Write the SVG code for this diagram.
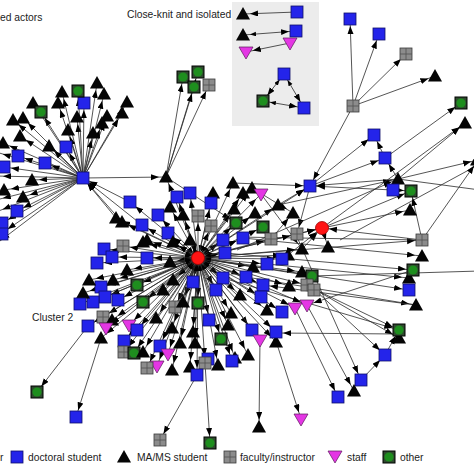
<svg xmlns="http://www.w3.org/2000/svg" width="474" height="474" viewBox="0 0 474 474">
<style>
.s{stroke:#2a2a2a;stroke-width:.8;fill:none;marker-end:url(#a)}
.d{stroke:#2a2a2a;stroke-width:.8;fill:none;marker-start:url(#h);marker-end:url(#a)}
.n{stroke:#2a2a2a;stroke-width:.8;fill:none}
.lbl{font-family:"Liberation Sans",Arial,sans-serif;font-size:10.3px;fill:#222}
</style>
<defs>
<marker id="a" markerWidth="10" markerHeight="8" refX="15" refY="3" orient="auto-start-reverse" markerUnits="userSpaceOnUse"><path d="M0,0 L8,3 L0,6z" fill="#000"/></marker>
<marker id="h" markerWidth="8" markerHeight="6" refX="13" refY="2.25" orient="auto-start-reverse" markerUnits="userSpaceOnUse"><path d="M0,0 L6,2.25 L0,4.5z" fill="#000"/></marker>
<g id="b"><rect x="-6" y="-6" width="12" height="12" fill="#2424ea" stroke="#10106a" stroke-width=".8"/></g>
<g id="t"><path d="M0,-7 L7,5.5 L-7,5.5z" fill="#050505"/></g>
<g id="g"><rect x="-6" y="-6" width="12" height="12" fill="#8c8c8c" stroke="#3a3a3a" stroke-width=".8"/><path d="M-6,0H6M0,-6V6" stroke="#505050" stroke-width=".8"/></g>
<g id="p"><path d="M-7,-5 L7,-5 L0,7z" fill="#e436e4" stroke="#5a1a5a" stroke-width=".7"/></g>
<g id="o"><rect x="-6" y="-6" width="12" height="12" fill="#2e4a2e" stroke="#000" stroke-width="1"/><circle r="4.6" fill="#1e8e1e"/></g>
<g id="r"><circle r="6.5" fill="#ff1414" stroke="#9a0000" stroke-width=".8"/></g>
</defs>
<rect x="232" y="2" width="87" height="124" fill="#ececec"/>
<g id="connectors">
<line x1="297" y1="12" x2="243" y2="14" class="s"/>
<line x1="243" y1="35" x2="296" y2="31" class="d"/>
<line x1="290" y1="43" x2="246" y2="52" class="s"/>
<line x1="284" y1="74" x2="263" y2="101" class="d"/>
<line x1="284" y1="74" x2="304" y2="108" class="d"/>
<line x1="263" y1="101" x2="304" y2="108" class="d"/>
<line x1="83" y1="178" x2="62" y2="92" class="s"/>
<line x1="83" y1="178" x2="58" y2="103" class="s"/>
<line x1="83" y1="178" x2="97" y2="83" class="s"/>
<line x1="83" y1="178" x2="104" y2="94" class="s"/>
<line x1="83" y1="178" x2="127" y2="102" class="s"/>
<line x1="83" y1="178" x2="122" y2="113" class="s"/>
<line x1="83" y1="178" x2="107" y2="116" class="s"/>
<line x1="83" y1="178" x2="33" y2="103" class="s"/>
<line x1="83" y1="178" x2="13" y2="120" class="s"/>
<line x1="83" y1="178" x2="23" y2="118" class="s"/>
<line x1="83" y1="178" x2="20" y2="136" class="s"/>
<line x1="83" y1="178" x2="49" y2="146" class="s"/>
<line x1="83" y1="178" x2="68" y2="130" class="s"/>
<line x1="83" y1="178" x2="77" y2="117" class="s"/>
<line x1="83" y1="178" x2="93" y2="133" class="s"/>
<line x1="83" y1="178" x2="102" y2="123" class="s"/>
<line x1="83" y1="178" x2="3" y2="143" class="s"/>
<line x1="83" y1="178" x2="32" y2="180" class="s"/>
<line x1="83" y1="178" x2="23" y2="197" class="s"/>
<line x1="83" y1="178" x2="4" y2="190" class="s"/>
<line x1="83" y1="178" x2="84" y2="103" class="s"/>
<line x1="83" y1="178" x2="66" y2="147" class="s"/>
<line x1="83" y1="178" x2="45" y2="163" class="s"/>
<line x1="83" y1="178" x2="18" y2="156" class="s"/>
<line x1="83" y1="178" x2="4" y2="167" class="s"/>
<line x1="83" y1="178" x2="17" y2="211" class="s"/>
<line x1="83" y1="178" x2="2" y2="223" class="s"/>
<line x1="83" y1="178" x2="2" y2="233" class="s"/>
<line x1="83" y1="178" x2="78" y2="91" class="s"/>
<line x1="83" y1="178" x2="41" y2="112" class="s"/>
<line x1="83" y1="178" x2="-4" y2="152" class="s"/>
<line x1="83" y1="178" x2="-4" y2="176" class="s"/>
<line x1="83" y1="178" x2="-4" y2="200" class="s"/>
<line x1="83" y1="178" x2="-4" y2="212" class="s"/>
<line x1="83" y1="178" x2="-4" y2="244" class="s"/>
<line x1="83" y1="178" x2="166" y2="177" class="s"/>
<line x1="130" y1="202" x2="83" y2="178" class="s"/>
<line x1="116" y1="218" x2="83" y2="178" class="s"/>
<line x1="142" y1="225" x2="83" y2="178" class="s"/>
<line x1="122" y1="222" x2="83" y2="178" class="s"/>
<line x1="166" y1="177" x2="183" y2="77" class="s"/>
<line x1="166" y1="177" x2="198" y2="72" class="s"/>
<line x1="166" y1="177" x2="194" y2="87" class="s"/>
<line x1="166" y1="177" x2="209" y2="85" class="s"/>
<line x1="166" y1="177" x2="236" y2="223" class="s"/>
<line x1="353" y1="106" x2="350" y2="19" class="s"/>
<line x1="353" y1="106" x2="379" y2="34" class="s"/>
<line x1="353" y1="106" x2="406" y2="54" class="s"/>
<line x1="353" y1="106" x2="435" y2="76" class="s"/>
<line x1="353" y1="106" x2="310" y2="186" class="s"/>
<line x1="310" y1="186" x2="374" y2="135" class="s"/>
<line x1="310" y1="186" x2="385" y2="158" class="s"/>
<line x1="398" y1="179" x2="310" y2="186" class="s"/>
<line x1="393" y1="190" x2="310" y2="186" class="s"/>
<line x1="278" y1="205" x2="310" y2="186" class="s"/>
<line x1="310" y1="186" x2="297" y2="234" class="s"/>
<line x1="233" y1="183" x2="310" y2="186" class="s"/>
<line x1="385" y1="158" x2="374" y2="135" class="s"/>
<line x1="398" y1="179" x2="385" y2="158" class="s"/>
<line x1="385" y1="158" x2="461" y2="103" class="s"/>
<line x1="398" y1="179" x2="465" y2="123" class="s"/>
<line x1="393" y1="190" x2="411" y2="191" class="s"/>
<line x1="398" y1="179" x2="478" y2="160" class="s"/>
<line x1="398" y1="179" x2="480" y2="190" class="n"/>
<line x1="278" y1="205" x2="398" y2="179" class="s"/>
<line x1="237" y1="250" x2="398" y2="179" class="s"/>
<line x1="322" y1="228" x2="411" y2="191" class="s"/>
<line x1="322" y1="228" x2="410" y2="210" class="s"/>
<line x1="322" y1="228" x2="465" y2="123" class="s"/>
<line x1="340" y1="240" x2="478" y2="165" class="n"/>
<line x1="422" y1="240" x2="411" y2="191" class="s"/>
<line x1="422" y1="240" x2="478" y2="160" class="s"/>
<line x1="302" y1="249" x2="322" y2="228" class="s"/>
<line x1="297" y1="234" x2="322" y2="228" class="s"/>
<line x1="288" y1="255" x2="322" y2="228" class="s"/>
<line x1="422" y1="240" x2="322" y2="228" class="s"/>
<line x1="322" y1="228" x2="328" y2="247" class="s"/>
<line x1="198" y1="258" x2="322" y2="228" class="d"/>
<line x1="198" y1="258" x2="422" y2="240" class="s"/>
<line x1="237" y1="237" x2="422" y2="240" class="n"/>
<line x1="243" y1="238" x2="422" y2="256" class="s"/>
<line x1="225" y1="253" x2="413" y2="270" class="s"/>
<line x1="312" y1="276" x2="480" y2="271" class="n"/>
<line x1="267" y1="264" x2="409" y2="278" class="s"/>
<line x1="198" y1="258" x2="409" y2="290" class="s"/>
<line x1="246" y1="277" x2="416" y2="305" class="s"/>
<line x1="413" y1="270" x2="307" y2="305" class="s"/>
<line x1="314" y1="289" x2="399" y2="330" class="s"/>
<line x1="307" y1="285" x2="399" y2="338" class="s"/>
<line x1="314" y1="289" x2="385" y2="355" class="s"/>
<line x1="223" y1="278" x2="399" y2="330" class="s"/>
<line x1="361" y1="380" x2="385" y2="355" class="s"/>
<line x1="385" y1="355" x2="399" y2="330" class="s"/>
<line x1="399" y1="334" x2="276" y2="333" class="s"/>
<line x1="416" y1="305" x2="263" y2="285" class="s"/>
<line x1="307" y1="305" x2="354" y2="391" class="s"/>
<line x1="295" y1="308" x2="338" y2="397" class="s"/>
<line x1="276" y1="341" x2="301" y2="419" class="s"/>
<line x1="260" y1="339" x2="259" y2="427" class="s"/>
<line x1="297" y1="237" x2="361" y2="380" class="s"/>
<line x1="261" y1="194" x2="302" y2="249" class="s"/>
<line x1="252" y1="188" x2="293" y2="213" class="s"/>
<line x1="271" y1="239" x2="293" y2="213" class="s"/>
<line x1="88" y1="326" x2="37" y2="392" class="s"/>
<line x1="101" y1="338" x2="76" y2="417" class="s"/>
<line x1="197" y1="375" x2="160" y2="440" class="s"/>
<line x1="205" y1="363" x2="210" y2="443" class="s"/>
<line x1="198" y1="258" x2="166" y2="177" class="d"/>
<line x1="198" y1="258" x2="177" y2="197" class="d"/>
<line x1="198" y1="258" x2="190" y2="193" class="s"/>
<line x1="198" y1="258" x2="213" y2="193" class="d"/>
<line x1="198" y1="258" x2="211" y2="203" class="s"/>
<line x1="198" y1="258" x2="234" y2="209" class="d"/>
<line x1="198" y1="258" x2="170" y2="207" class="s"/>
<line x1="198" y1="258" x2="183" y2="215" class="d"/>
<line x1="198" y1="258" x2="198" y2="216" class="s"/>
<line x1="198" y1="258" x2="211" y2="226" class="s"/>
<line x1="198" y1="258" x2="158" y2="215" class="d"/>
<line x1="198" y1="258" x2="142" y2="225" class="s"/>
<line x1="198" y1="258" x2="116" y2="218" class="d"/>
<line x1="198" y1="258" x2="122" y2="222" class="s"/>
<line x1="198" y1="258" x2="130" y2="202" class="d"/>
<line x1="198" y1="258" x2="168" y2="233" class="s"/>
<line x1="198" y1="258" x2="147" y2="240" class="d"/>
<line x1="198" y1="258" x2="123" y2="246" class="s"/>
<line x1="198" y1="258" x2="104" y2="249" class="d"/>
<line x1="198" y1="258" x2="112" y2="257" class="s"/>
<line x1="198" y1="258" x2="97" y2="263" class="d"/>
<line x1="198" y1="258" x2="147" y2="258" class="s"/>
<line x1="198" y1="258" x2="170" y2="262" class="s"/>
<line x1="198" y1="258" x2="223" y2="240" class="d"/>
<line x1="198" y1="258" x2="225" y2="253" class="s"/>
<line x1="198" y1="258" x2="190" y2="240" class="s"/>
<line x1="198" y1="258" x2="127" y2="270" class="d"/>
<line x1="198" y1="258" x2="113" y2="280" class="s"/>
<line x1="198" y1="258" x2="193" y2="282" class="d"/>
<line x1="198" y1="258" x2="223" y2="278" class="s"/>
<line x1="198" y1="258" x2="216" y2="290" class="d"/>
<line x1="198" y1="258" x2="137" y2="285" class="s"/>
<line x1="198" y1="258" x2="143" y2="302" class="d"/>
<line x1="198" y1="258" x2="175" y2="307" class="s"/>
<line x1="198" y1="258" x2="198" y2="303" class="d"/>
<line x1="198" y1="258" x2="101" y2="287" class="s"/>
<line x1="198" y1="258" x2="105" y2="297" class="d"/>
<line x1="198" y1="258" x2="93" y2="302" class="s"/>
<line x1="198" y1="258" x2="118" y2="300" class="d"/>
<line x1="198" y1="258" x2="156" y2="318" class="s"/>
<line x1="198" y1="258" x2="209" y2="320" class="d"/>
<line x1="198" y1="258" x2="103" y2="317" class="s"/>
<line x1="198" y1="258" x2="106" y2="328" class="d"/>
<line x1="198" y1="258" x2="129" y2="325" class="s"/>
<line x1="198" y1="258" x2="137" y2="330" class="d"/>
<line x1="198" y1="258" x2="183" y2="302" class="s"/>
<line x1="198" y1="258" x2="163" y2="290" class="s"/>
<line x1="198" y1="258" x2="173" y2="280" class="s"/>
<line x1="198" y1="258" x2="89" y2="280" class="d"/>
<line x1="198" y1="258" x2="80" y2="304" class="s"/>
<line x1="198" y1="258" x2="83" y2="293" class="d"/>
<line x1="198" y1="258" x2="88" y2="326" class="s"/>
<line x1="198" y1="258" x2="101" y2="338" class="d"/>
<line x1="198" y1="258" x2="112" y2="320" class="s"/>
<line x1="198" y1="258" x2="124" y2="341" class="d"/>
<line x1="198" y1="258" x2="124" y2="352" class="s"/>
<line x1="198" y1="258" x2="134" y2="353" class="d"/>
<line x1="198" y1="258" x2="143" y2="352" class="s"/>
<line x1="198" y1="258" x2="160" y2="346" class="d"/>
<line x1="198" y1="258" x2="168" y2="354" class="s"/>
<line x1="198" y1="258" x2="157" y2="366" class="d"/>
<line x1="198" y1="258" x2="147" y2="368" class="s"/>
<line x1="198" y1="258" x2="172" y2="370" class="d"/>
<line x1="198" y1="258" x2="190" y2="367" class="s"/>
<line x1="198" y1="258" x2="197" y2="375" class="d"/>
<line x1="198" y1="258" x2="205" y2="363" class="s"/>
<line x1="198" y1="258" x2="218" y2="365" class="d"/>
<line x1="198" y1="258" x2="195" y2="343" class="s"/>
<line x1="198" y1="258" x2="180" y2="343" class="d"/>
<line x1="198" y1="258" x2="221" y2="339" class="s"/>
<line x1="198" y1="258" x2="193" y2="332" class="d"/>
<line x1="198" y1="258" x2="172" y2="328" class="s"/>
<line x1="198" y1="258" x2="232" y2="361" class="d"/>
<line x1="198" y1="258" x2="228" y2="325" class="s"/>
<line x1="198" y1="258" x2="143" y2="242" class="d"/>
<line x1="198" y1="258" x2="173" y2="242" class="s"/>
<line x1="198" y1="258" x2="233" y2="183" class="d"/>
<line x1="198" y1="258" x2="252" y2="188" class="s"/>
<line x1="198" y1="258" x2="243" y2="193" class="d"/>
<line x1="198" y1="258" x2="261" y2="194" class="s"/>
<line x1="198" y1="258" x2="255" y2="213" class="d"/>
<line x1="198" y1="258" x2="236" y2="223" class="s"/>
<line x1="198" y1="258" x2="263" y2="227" class="d"/>
<line x1="198" y1="258" x2="271" y2="239" class="s"/>
<line x1="198" y1="258" x2="288" y2="255" class="d"/>
<line x1="198" y1="258" x2="282" y2="259" class="s"/>
<line x1="198" y1="258" x2="267" y2="264" class="d"/>
<line x1="198" y1="258" x2="243" y2="238" class="s"/>
<line x1="198" y1="258" x2="253" y2="267" class="d"/>
<line x1="198" y1="258" x2="246" y2="277" class="s"/>
<line x1="198" y1="258" x2="263" y2="285" class="d"/>
<line x1="198" y1="258" x2="261" y2="297" class="s"/>
<line x1="198" y1="258" x2="289" y2="286" class="d"/>
<line x1="198" y1="258" x2="267" y2="310" class="s"/>
<line x1="198" y1="258" x2="240" y2="295" class="d"/>
<line x1="198" y1="258" x2="231" y2="313" class="s"/>
<line x1="198" y1="258" x2="252" y2="330" class="d"/>
<line x1="198" y1="258" x2="260" y2="340" class="s"/>
<line x1="198" y1="258" x2="276" y2="332" class="d"/>
<line x1="198" y1="258" x2="276" y2="342" class="s"/>
<line x1="198" y1="258" x2="248" y2="355" class="d"/>
<line x1="198" y1="258" x2="235" y2="358" class="s"/>
<line x1="198" y1="258" x2="282" y2="312" class="d"/>
<line x1="198" y1="258" x2="302" y2="272" class="s"/>
<line x1="198" y1="258" x2="312" y2="276" class="d"/>
<line x1="198" y1="258" x2="307" y2="285" class="s"/>
<line x1="198" y1="258" x2="295" y2="308" class="d"/>
<line x1="198" y1="258" x2="307" y2="305" class="s"/>
<line x1="198" y1="258" x2="278" y2="205" class="d"/>
<line x1="198" y1="258" x2="302" y2="249" class="s"/>
<line x1="198" y1="258" x2="297" y2="234" class="d"/>
<line x1="198" y1="258" x2="310" y2="186" class="s"/>
</g>
<g id="n-k1"><use href="#t" x="243" y="14"/></g>
<g id="n-k2"><use href="#b" x="297" y="12"/></g>
<g id="n-k3"><use href="#t" x="243" y="35"/></g>
<g id="n-k4"><use href="#b" x="296" y="31"/></g>
<g id="n-k5"><use href="#p" x="246" y="52"/></g>
<g id="n-k6"><use href="#p" x="290" y="43"/></g>
<g id="n-k7"><use href="#b" x="284" y="74"/></g>
<g id="n-k8"><use href="#o" x="263" y="101"/></g>
<g id="n-k9"><use href="#b" x="304" y="108"/></g>
<g id="n-l1"><use href="#t" x="62" y="92"/></g>
<g id="n-l2"><use href="#t" x="58" y="103"/></g>
<g id="n-l3"><use href="#t" x="97" y="83"/></g>
<g id="n-l4"><use href="#t" x="104" y="94"/></g>
<g id="n-l5"><use href="#t" x="127" y="102"/></g>
<g id="n-l6"><use href="#t" x="122" y="113"/></g>
<g id="n-l7"><use href="#t" x="107" y="116"/></g>
<g id="n-l8"><use href="#t" x="33" y="103"/></g>
<g id="n-l9"><use href="#t" x="13" y="120"/></g>
<g id="n-l10"><use href="#t" x="23" y="118"/></g>
<g id="n-l11"><use href="#t" x="20" y="136"/></g>
<g id="n-l12"><use href="#t" x="49" y="146"/></g>
<g id="n-l13"><use href="#t" x="68" y="130"/></g>
<g id="n-l14"><use href="#t" x="77" y="117"/></g>
<g id="n-l15"><use href="#t" x="93" y="133"/></g>
<g id="n-l16"><use href="#t" x="102" y="123"/></g>
<g id="n-l17"><use href="#t" x="3" y="143"/></g>
<g id="n-l18"><use href="#t" x="32" y="180"/></g>
<g id="n-l19"><use href="#t" x="23" y="197"/></g>
<g id="n-l20"><use href="#t" x="4" y="190"/></g>
<g id="n-l21"><use href="#b" x="84" y="103"/></g>
<g id="n-l22"><use href="#b" x="66" y="147"/></g>
<g id="n-l23"><use href="#b" x="45" y="163"/></g>
<g id="n-l24"><use href="#b" x="18" y="156"/></g>
<g id="n-l25"><use href="#b" x="4" y="167"/></g>
<g id="n-l26"><use href="#b" x="17" y="211"/></g>
<g id="n-l27"><use href="#b" x="2" y="223"/></g>
<g id="n-l28"><use href="#b" x="2" y="234"/></g>
<g id="n-l29"><use href="#o" x="78" y="91"/></g>
<g id="n-l30"><use href="#o" x="41" y="112"/></g>
<g id="n-L"><use href="#b" x="83" y="178"/></g>
<g id="n-T1"><use href="#t" x="166" y="177"/></g>
<g id="n-u1"><use href="#o" x="183" y="77"/></g>
<g id="n-u2"><use href="#o" x="198" y="72"/></g>
<g id="n-u3"><use href="#o" x="194" y="87"/></g>
<g id="n-u4"><use href="#g" x="209" y="85"/></g>
<g id="n-G1"><use href="#g" x="353" y="106"/></g>
<g id="n-v1"><use href="#b" x="350" y="19"/></g>
<g id="n-v2"><use href="#b" x="379" y="34"/></g>
<g id="n-v3"><use href="#g" x="406" y="54"/></g>
<g id="n-v4"><use href="#t" x="435" y="76"/></g>
<g id="n-r1"><use href="#b" x="310" y="186"/></g>
<g id="n-r2"><use href="#b" x="374" y="135"/></g>
<g id="n-r3"><use href="#b" x="385" y="158"/></g>
<g id="n-r4"><use href="#t" x="398" y="179"/></g>
<g id="n-r5"><use href="#b" x="393" y="190"/></g>
<g id="n-r6"><use href="#o" x="411" y="191"/></g>
<g id="n-r7"><use href="#t" x="410" y="210"/></g>
<g id="n-r8"><use href="#o" x="461" y="103"/></g>
<g id="n-r9"><use href="#t" x="465" y="123"/></g>
<g id="n-r10"><use href="#t" x="477" y="160"/></g>
<g id="n-r11"><use href="#g" x="422" y="240"/></g>
<g id="n-r12"><use href="#t" x="422" y="256"/></g>
<g id="n-r14"><use href="#t" x="409" y="278"/></g>
<g id="n-r13"><use href="#o" x="413" y="270"/></g>
<g id="n-r15"><use href="#b" x="409" y="290"/></g>
<g id="n-r16"><use href="#t" x="416" y="305"/></g>
<g id="n-r18"><use href="#t" x="399" y="338"/></g>
<g id="n-r17"><use href="#o" x="399" y="330"/></g>
<g id="n-r19"><use href="#b" x="385" y="355"/></g>
<g id="n-r20"><use href="#b" x="361" y="380"/></g>
<g id="n-r21"><use href="#t" x="354" y="391"/></g>
<g id="n-r22"><use href="#b" x="338" y="397"/></g>
<g id="n-r23"><use href="#p" x="301" y="419"/></g>
<g id="n-r24"><use href="#t" x="259" y="427"/></g>
<g id="n-R2"><use href="#r" x="322" y="228"/></g>
<g id="n-c1"><use href="#t" x="233" y="183"/></g>
<g id="n-c2"><use href="#t" x="252" y="188"/></g>
<g id="n-c3"><use href="#t" x="243" y="193"/></g>
<g id="n-c4"><use href="#p" x="261" y="194"/></g>
<g id="n-c5"><use href="#t" x="278" y="205"/></g>
<g id="n-c6"><use href="#t" x="293" y="213"/></g>
<g id="n-c7"><use href="#t" x="255" y="213"/></g>
<g id="n-c8"><use href="#o" x="236" y="223"/></g>
<g id="n-c9"><use href="#o" x="263" y="227"/></g>
<g id="n-c10"><use href="#g" x="271" y="239"/></g>
<g id="n-c11"><use href="#g" x="297" y="234"/></g>
<g id="n-c12"><use href="#t" x="328" y="247"/></g>
<g id="n-c13"><use href="#t" x="302" y="249"/></g>
<g id="n-c14"><use href="#t" x="288" y="255"/></g>
<g id="n-c15"><use href="#b" x="282" y="259"/></g>
<g id="n-c16"><use href="#b" x="267" y="264"/></g>
<g id="n-c17"><use href="#b" x="243" y="238"/></g>
<g id="n-c18"><use href="#t" x="253" y="267"/></g>
<g id="n-c19"><use href="#b" x="246" y="277"/></g>
<g id="n-c20"><use href="#b" x="263" y="285"/></g>
<g id="n-c21"><use href="#b" x="261" y="297"/></g>
<g id="n-c26"><use href="#t" x="302" y="272"/></g>
<g id="n-c22"><use href="#o" x="312" y="276"/></g>
<g id="n-c23"><use href="#g" x="307" y="285"/></g>
<g id="n-c24"><use href="#g" x="314" y="290"/></g>
<g id="n-c25"><use href="#t" x="289" y="286"/></g>
<g id="n-c27"><use href="#p" x="295" y="308"/></g>
<g id="n-c28"><use href="#p" x="307" y="305"/></g>
<g id="n-c29"><use href="#b" x="282" y="312"/></g>
<g id="n-c30"><use href="#t" x="267" y="310"/></g>
<g id="n-c31"><use href="#t" x="240" y="295"/></g>
<g id="n-c32"><use href="#t" x="231" y="313"/></g>
<g id="n-c33"><use href="#b" x="252" y="330"/></g>
<g id="n-c34"><use href="#p" x="260" y="340"/></g>
<g id="n-c36"><use href="#t" x="276" y="342"/></g>
<g id="n-c35"><use href="#b" x="276" y="332"/></g>
<g id="n-c37"><use href="#t" x="248" y="355"/></g>
<g id="n-c38"><use href="#t" x="235" y="358"/></g>
<g id="n-c39"><use href="#b" x="232" y="361"/></g>
<g id="n-d2"><use href="#b" x="177" y="197"/></g>
<g id="n-d3"><use href="#b" x="190" y="193"/></g>
<g id="n-d4"><use href="#t" x="213" y="193"/></g>
<g id="n-d5"><use href="#b" x="211" y="203"/></g>
<g id="n-d6"><use href="#t" x="234" y="209"/></g>
<g id="n-d8"><use href="#t" x="170" y="207"/></g>
<g id="n-d9"><use href="#t" x="183" y="215"/></g>
<g id="n-d10"><use href="#g" x="198" y="216"/></g>
<g id="n-d11"><use href="#g" x="211" y="226"/></g>
<g id="n-d13"><use href="#b" x="158" y="215"/></g>
<g id="n-d14"><use href="#b" x="142" y="225"/></g>
<g id="n-d15"><use href="#t" x="116" y="218"/></g>
<g id="n-d16"><use href="#t" x="122" y="222"/></g>
<g id="n-d17"><use href="#b" x="130" y="202"/></g>
<g id="n-d18"><use href="#b" x="168" y="233"/></g>
<g id="n-d19"><use href="#t" x="147" y="240"/></g>
<g id="n-d20"><use href="#g" x="123" y="246"/></g>
<g id="n-d21"><use href="#b" x="104" y="249"/></g>
<g id="n-d22"><use href="#b" x="112" y="257"/></g>
<g id="n-d23"><use href="#b" x="97" y="263"/></g>
<g id="n-d24"><use href="#b" x="147" y="258"/></g>
<g id="n-d25"><use href="#t" x="170" y="262"/></g>
<g id="n-d26"><use href="#b" x="223" y="240"/></g>
<g id="n-d28"><use href="#b" x="225" y="253"/></g>
<g id="n-d29"><use href="#t" x="190" y="240"/></g>
<g id="n-d82"><use href="#t" x="143" y="242"/></g>
<g id="n-d83"><use href="#t" x="173" y="242"/></g>
<g id="n-d30"><use href="#t" x="127" y="270"/></g>
<g id="n-d31"><use href="#t" x="113" y="280"/></g>
<g id="n-d32"><use href="#b" x="193" y="282"/></g>
<g id="n-d33"><use href="#b" x="223" y="278"/></g>
<g id="n-d35"><use href="#b" x="216" y="290"/></g>
<g id="n-d36"><use href="#o" x="137" y="285"/></g>
<g id="n-d37"><use href="#o" x="143" y="302"/></g>
<g id="n-d38"><use href="#g" x="175" y="307"/></g>
<g id="n-d39"><use href="#o" x="198" y="303"/></g>
<g id="n-d40"><use href="#b" x="101" y="287"/></g>
<g id="n-d41"><use href="#b" x="105" y="297"/></g>
<g id="n-d42"><use href="#b" x="93" y="302"/></g>
<g id="n-d43"><use href="#b" x="118" y="300"/></g>
<g id="n-d44"><use href="#t" x="156" y="318"/></g>
<g id="n-d45"><use href="#b" x="209" y="320"/></g>
<g id="n-d46"><use href="#g" x="103" y="317"/></g>
<g id="n-d59"><use href="#t" x="112" y="320"/></g>
<g id="n-d47"><use href="#p" x="106" y="328"/></g>
<g id="n-d48"><use href="#p" x="129" y="325"/></g>
<g id="n-d49"><use href="#b" x="137" y="330"/></g>
<g id="n-d50"><use href="#t" x="183" y="302"/></g>
<g id="n-d52"><use href="#t" x="163" y="290"/></g>
<g id="n-d53"><use href="#t" x="173" y="280"/></g>
<g id="n-d54"><use href="#t" x="89" y="280"/></g>
<g id="n-d56"><use href="#t" x="83" y="293"/></g>
<g id="n-d55"><use href="#b" x="80" y="304"/></g>
<g id="n-d57"><use href="#b" x="88" y="326"/></g>
<g id="n-d58"><use href="#t" x="101" y="338"/></g>
<g id="n-d60"><use href="#b" x="124" y="341"/></g>
<g id="n-d61"><use href="#g" x="124" y="352"/></g>
<g id="n-d62"><use href="#o" x="134" y="353"/></g>
<g id="n-d63"><use href="#t" x="143" y="352"/></g>
<g id="n-d64"><use href="#b" x="160" y="346"/></g>
<g id="n-d65"><use href="#p" x="168" y="354"/></g>
<g id="n-d66"><use href="#p" x="157" y="366"/></g>
<g id="n-d67"><use href="#g" x="147" y="368"/></g>
<g id="n-d68"><use href="#t" x="172" y="370"/></g>
<g id="n-d84"><use href="#t" x="190" y="367"/></g>
<g id="n-d71"><use href="#t" x="218" y="365"/></g>
<g id="n-d85"><use href="#b" x="208" y="359"/></g>
<g id="n-d70"><use href="#g" x="205" y="363"/></g>
<g id="n-d69"><use href="#b" x="197" y="375"/></g>
<g id="n-d72"><use href="#t" x="195" y="343"/></g>
<g id="n-d73"><use href="#t" x="180" y="343"/></g>
<g id="n-d74"><use href="#o" x="221" y="339"/></g>
<g id="n-d75"><use href="#t" x="193" y="332"/></g>
<g id="n-d76"><use href="#t" x="172" y="328"/></g>
<g id="n-d77"><use href="#t" x="228" y="325"/></g>
<g id="n-e1"><use href="#o" x="37" y="392"/></g>
<g id="n-e2"><use href="#b" x="76" y="417"/></g>
<g id="n-e3"><use href="#g" x="160" y="440"/></g>
<g id="n-e4"><use href="#o" x="210" y="443"/></g>
<g id="n-C"><use href="#r" x="198" y="258"/></g>
<text class="lbl" x="0" y="21">ed actors</text>
<text class="lbl" x="127" y="18">Close-knit and isolated</text>
<text class="lbl" x="32" y="321">Cluster 2</text>
<g id="legend">
<text class="lbl" x="0" y="461">r</text>
<use href="#b" x="17" y="457"/>
<text class="lbl" x="28" y="461">doctoral student</text>
<use href="#t" x="124" y="457"/>
<text class="lbl" x="137" y="461">MA/MS student</text>
<use href="#g" x="230" y="457"/>
<text class="lbl" x="240" y="461">faculty/instructor</text>
<use href="#p" x="335" y="456"/>
<text class="lbl" x="347" y="461">staff</text>
<use href="#o" x="389" y="457"/>
<text class="lbl" x="400" y="461">other</text>
</g>
</svg>
